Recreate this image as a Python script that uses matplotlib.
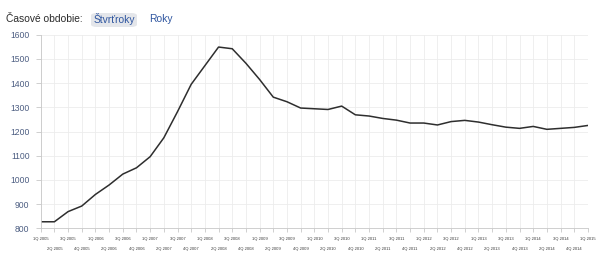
import numpy as np
from matplotlib import pyplot as plt
from matplotlib.patches import FancyBboxPatch

# quarterly values 1Q 2005 .. 1Q 2015
quarters = []
for yr in range(2005, 2015):
    for q in range(1, 5):
        quarters.append(str(q) + "Q " + str(yr))
quarters.append("1Q 2015")

values = [827, 827, 869, 892, 940, 979, 1024, 1050,
          1096, 1174, 1282, 1395, 1472, 1549, 1542, 1482,
          1415, 1342, 1323, 1297, 1294, 1291, 1305, 1269,
          1264, 1254, 1247, 1235, 1235, 1227, 1241, 1246,
          1239, 1228, 1218, 1213, 1221, 1209, 1213, 1217,
          1225]
y_ticks = [800, 900, 1000, 1100, 1200, 1300, 1400, 1500, 1600]

plt.rcParams['font.family'] = ['Liberation Sans', 'DejaVu Sans']

fig = plt.figure(figsize=(6.03, 2.59), dpi=100)
ax = fig.add_axes([0.0675, 0.1185, 0.9075, 0.7475])

x = np.arange(len(values))
ax.plot(x, values, color="#2e2e2e", lw=1.1)

ax.set_xlim(0, len(values) - 1)
ax.set_ylim(800, 1600)
ax.set_yticks(y_ticks)

# alternate rows of quarter labels: major on top row, minor on bottom row
ax.set_xticks(x[::2])
ax.set_xticklabels(quarters[::2])
ax.set_xticks(x[1::2], minor=True)
ax.set_xticklabels(quarters[1::2], minor=True)
ax.tick_params(axis="x", which="major", length=3, width=0.6, color="#c8c8c8",
               pad=3.0, labelsize=3.0, labelcolor="#3a3a3a")
ax.tick_params(axis="x", which="minor", length=3, width=0.6, color="#c8c8c8",
               pad=10.2, labelsize=3.0, labelcolor="#3a3a3a")
ax.tick_params(axis="y", length=3.6, width=0.6, color="#c8c8c8", pad=4.4,
               labelsize=6.2, labelcolor="#4d5e82")

ax.grid(True, which="both", color="#ececec", lw=0.6)
ax.set_axisbelow(True)
for s in ["top", "right"]:
    ax.spines[s].set_visible(False)
for s in ["left", "bottom"]:
    ax.spines[s].set_color("#c8c8c8")
    ax.spines[s].set_linewidth(0.6)

# header
fig.text(6 / 603, 1 - 19 / 259, "Časové obdobie:", fontsize=7.4, color="#2b2b2b",
         va="center", ha="left")
box = FancyBboxPatch((91 / 603, 1 - 27 / 259), 46 / 603, 14 / 259,
                     boxstyle="round,pad=0,rounding_size=0.01",
                     transform=fig.transFigure, facecolor="#e4e6ea", edgecolor="none")
fig.patches.append(box)
fig.text(114 / 603, 1 - 19 / 259, "Štvrťroky", fontsize=7.4, color="#2f56a0",
         va="center", ha="center")
fig.text(149 / 603, 1 - 19 / 259, "Roky", fontsize=7.4, color="#2f56a0",
         va="center", ha="left")

fig.savefig("out.png", dpi=100)
